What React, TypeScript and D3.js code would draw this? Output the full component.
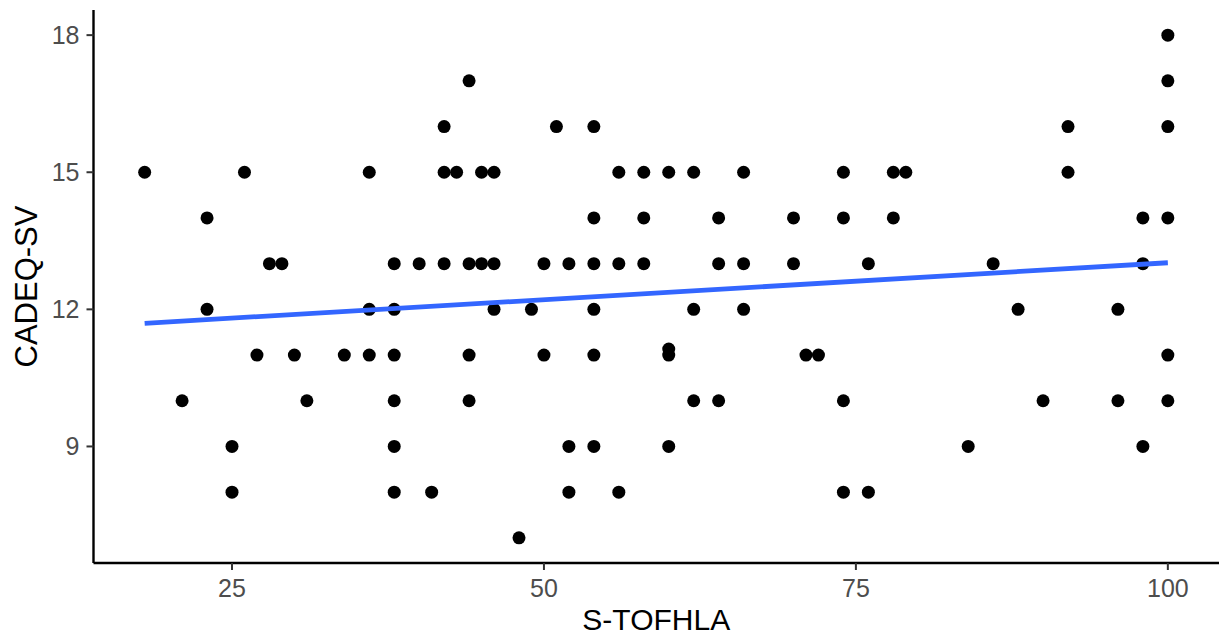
import React from 'react';
import * as d3 from 'd3';

// S-TOFHLA score (x) and CADEQ-SV score (y), one row per y level
const stofhla = [
  100,
  44, 100,
  42, 51, 54, 92, 100,
  18, 26, 36, 42, 43, 45, 46, 56, 58, 60, 62, 66, 74, 78, 79, 92,
  23, 54, 58, 64, 70, 74, 78, 98, 100,
  28, 29, 38, 40, 42, 44, 45, 46, 50, 52, 54, 56, 58, 64, 66, 70, 76, 86, 98,
  23, 36, 38, 46, 49, 54, 62, 66, 88, 96,
  27, 30, 34, 36, 38, 44, 50, 54, 60, 60, 71, 72, 100,
  21, 31, 38, 44, 62, 64, 74, 90, 96, 100,
  25, 38, 52, 54, 60, 84, 98,
  25, 38, 41, 52, 56, 74, 76,
  48,
];
const cadeqSv = [
  18,
  17, 17,
  16, 16, 16, 16, 16,
  15, 15, 15, 15, 15, 15, 15, 15, 15, 15, 15, 15, 15, 15, 15, 15,
  14, 14, 14, 14, 14, 14, 14, 14, 14,
  13, 13, 13, 13, 13, 13, 13, 13, 13, 13, 13, 13, 13, 13, 13, 13, 13, 13, 13,
  12, 12, 12, 12, 12, 12, 12, 12, 12, 12,
  11, 11, 11, 11, 11, 11, 11, 11, 11.13, 11, 11, 11, 11,
  10, 10, 10, 10, 10, 10, 10, 10, 10, 10,
  9, 9, 9, 9, 9, 9, 9,
  8, 8, 8, 8, 8, 8, 8,
  7,
];

const xTicks = [25, 50, 75, 100];
const yTicks = [9, 12, 15, 18];

const W = 1219;
const H = 636;
const margin = { top: 10, right: 0, bottom: 73, left: 93.5 };

const App = () => {
  const points = stofhla.map((v, i) => ({ x: v, y: cadeqSv[i] }));

  // ggplot-style 5% expansion
  const [xMin, xMax] = d3.extent(stofhla) as [number, number];
  const [yMin, yMax] = d3.extent(cadeqSv) as [number, number];
  const xPad = (xMax - xMin) * 0.05;
  const yPad = (yMax - yMin) * 0.05;

  const x = d3
    .scaleLinear()
    .domain([xMin - xPad, xMax + xPad])
    .range([margin.left, W - margin.right]);
  const y = d3
    .scaleLinear()
    .domain([yMin - yPad, yMax + yPad])
    .range([H - margin.bottom, margin.top]);

  // least squares fit (geom_smooth method = "lm")
  const mx = d3.mean(stofhla) as number;
  const my = d3.mean(cadeqSv) as number;
  const slope =
    d3.sum(points, d => (d.x - mx) * (d.y - my)) /
    d3.sum(points, d => (d.x - mx) ** 2);
  const intercept = my - slope * mx;
  const fit = [xMin, xMax].map(v => ({ x: v, y: intercept + slope * v }));
  const line = d3
    .line<{ x: number; y: number }>()
    .x(d => x(d.x))
    .y(d => y(d.y));

  const x0 = margin.left;
  const y0 = H - margin.bottom;
  const font = '"Liberation Sans", Arial, sans-serif';

  return (
    <svg
      width={W}
      height={H}
      style={{ position: 'absolute', left: 0, top: 0, background: '#fff' }}
      fontFamily={font}
    >
      {points.map((d, i) => (
        <circle key={i} cx={x(d.x)} cy={y(d.y)} r={6.5} fill="#000" />
      ))}
      <path d={line(fit) || ''} fill="none" stroke="#3366FF" strokeWidth={4.8} />

      {/* axes */}
      <line x1={x0} x2={W} y1={y0} y2={y0} stroke="#000" strokeWidth={2.4} />
      <line x1={x0} x2={x0} y1={margin.top} y2={y0} stroke="#000" strokeWidth={2.4} />

      {xTicks.map(t => (
        <g key={t} transform={`translate(${x(t)},${y0})`}>
          <line y1={0} y2={7} stroke="#333" strokeWidth={2} />
          <text y={34} textAnchor="middle" fontSize={25} fill="#4D4D4D">
            {t}
          </text>
        </g>
      ))}
      {yTicks.map(t => (
        <g key={t} transform={`translate(${x0},${y(t)})`}>
          <line x1={0} x2={-7} stroke="#333" strokeWidth={2} />
          <text x={-14} dy="0.35em" textAnchor="end" fontSize={25} fill="#4D4D4D">
            {t}
          </text>
        </g>
      ))}

      <text x={(x0 + W) / 2} y={630} textAnchor="middle" fontSize={30} fill="#000">
        S-TOFHLA
      </text>
      <text
        transform={`translate(37,${(margin.top + y0) / 2}) rotate(-90)`}
        textAnchor="middle"
        fontSize={31}
        fill="#000"
      >
        CADEQ-SV
      </text>
    </svg>
  );
};

export default App;
